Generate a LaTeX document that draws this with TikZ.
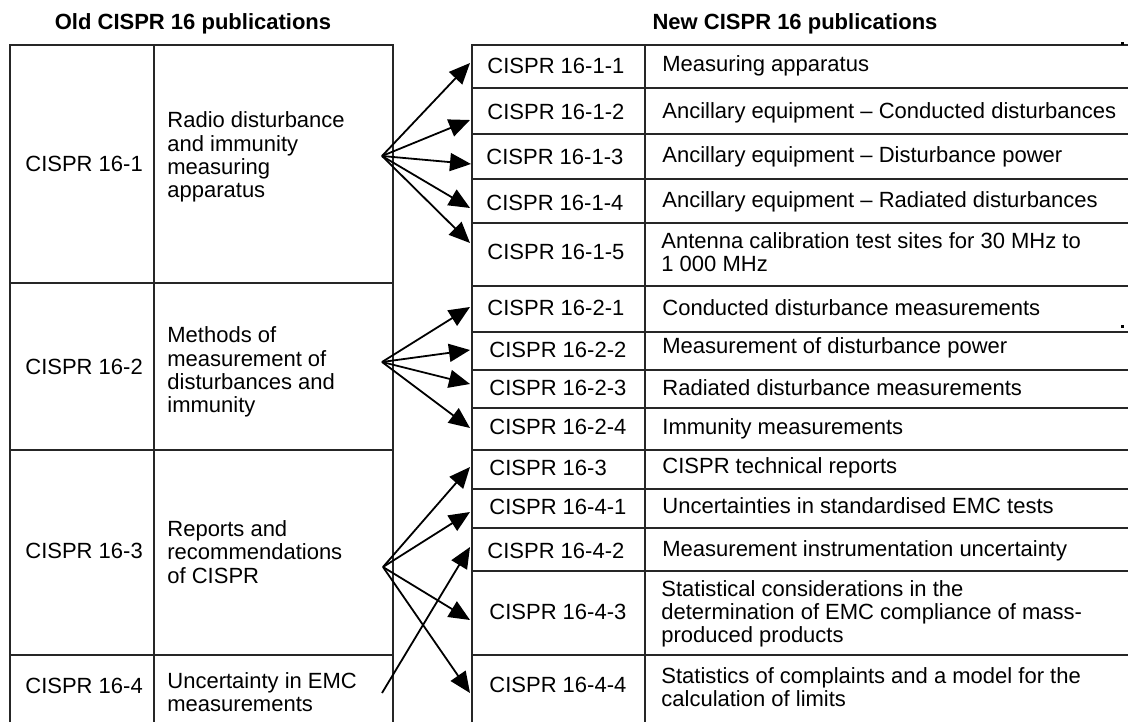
\documentclass[tikz,border=0pt]{standalone}
\usepackage{fontspec}
\setmainfont{Liberation Sans}
\usetikzlibrary{arrows.meta}
\begin{document}
\begin{tikzpicture}[x=0.5pt,y=-0.5pt,
  txt/.style={anchor=west, align=left, inner sep=0pt, font=\fontsize{11}{11.6}\selectfont},
  ttl/.style={inner sep=0pt, font=\fontsize{11}{13}\selectfont\bfseries},
  tabline/.style={line width=0.6pt, black!85},
  arr/.style={line width=0.9pt, -{Triangle[length=10.5pt,width=9pt]}}]
\useasboundingbox (0,0) rectangle (1128,722);

% titles
\node[ttl] (toldt) at (193,24) {Old CISPR 16 publications};
\node[ttl] (tnewt) at (795,24) {New CISPR 16 publications};

% left table lines
\draw[tabline] (10,722) -- (10,45) -- (393,45) -- (393,722);
\draw[tabline] (154,45) -- (154,722);
\foreach \yy in {283,450,655} \draw[tabline] (10,\yy) -- (393,\yy);

% right table lines
\draw[tabline] (472,722) -- (472,45) -- (1128,45);
\draw[tabline] (645,45) -- (645,722);
\foreach \yy in {88,134,179,223,286,332,370,408,450,489,528,571,655}
  \draw[tabline] (472,\yy) -- (1128,\yy);
\fill (1121,325) rectangle (1124,328);
\fill (1121,42) rectangle (1124,45);

% left table texts
\node[txt] (o1) at (25,164) {CISPR 16-1};
\node[txt] (o1d) at (167,157) {Radio disturbance\\and immunity\\measuring\\apparatus};
\node[txt] (o2) at (25,367) {CISPR 16-2};
\node[txt] (o2d) at (167,372) {Methods of\\measurement of\\disturbances and\\immunity};
\node[txt] (o3) at (25,551) {CISPR 16-3};
\node[txt] (o3d) at (167,552) {Reports and\\recommendations\\of CISPR};
\node[txt] (o4) at (25,686) {CISPR 16-4};
\node[txt] (o4d) at (167,692) {Uncertainty in EMC\\measurements};

% right table texts
\node[txt] (n111) at (487,66) {CISPR 16-1-1};
\node[txt] (n111d) at (662,66) {Measuring apparatus};
\node[txt] (n112) at (487,112) {CISPR 16-1-2};
\node[txt] (n112d) at (662,113) {Ancillary equipment -- Conducted disturbances};
\node[txt] (n113) at (486,157) {CISPR 16-1-3};
\node[txt] (n113d) at (662,157) {Ancillary equipment -- Disturbance power};
\node[txt] (n114) at (486,203) {CISPR 16-1-4};
\node[txt] (n114d) at (662,202) {Ancillary equipment -- Radiated disturbances};
\node[txt] (n115) at (487,252) {CISPR 16-1-5};
\node[txt] (n115d) at (661,252) {Antenna calibration test sites for 30 MHz to\\1 000 MHz};
\node[txt] (n221) at (487,308) {CISPR 16-2-1};
\node[txt] (n221d) at (662,308) {Conducted disturbance measurements};
\node[txt] (n222) at (489,350) {CISPR 16-2-2};
\node[txt] (n222d) at (662,348) {Measurement of disturbance power};
\node[txt] (n223) at (489,388) {CISPR 16-2-3};
\node[txt] (n223d) at (662,388) {Radiated disturbance measurements};
\node[txt] (n224) at (489,427) {CISPR 16-2-4};
\node[txt] (n224d) at (662,429) {Immunity measurements};
\node[txt] (n3) at (489,468) {CISPR 16-3};
\node[txt] (n3d) at (662,468) {CISPR technical reports};
\node[txt] (n441) at (489,507) {CISPR 16-4-1};
\node[txt] (n441d) at (662,506) {Uncertainties in standardised EMC tests};
\node[txt] (n442) at (487,551) {CISPR 16-4-2};
\node[txt] (n442d) at (662,551) {Measurement instrumentation uncertainty};
\node[txt] (n443) at (489,612) {CISPR 16-4-3};
\node[txt] (n443d) at (661,614) {Statistical considerations in the\\determination of EMC compliance of mass-\\produced products};
\node[txt] (n444) at (489,685) {CISPR 16-4-4};
\node[txt] (n444d) at (661,687) {Statistics of complaints and a model for the\\calculation of limits};

% fan origins and arrow tips
\coordinate (f1) at (382,156);
\coordinate (f2) at (382,362);
\coordinate (f3) at (383,567);
\coordinate (f4) at (382,693);
\coordinate (t111) at (470,63);
\coordinate (t112) at (470,120);
\coordinate (t113) at (471,164);
\coordinate (t114) at (470,208);
\coordinate (t115) at (470,243);
\coordinate (t221) at (470,307);
\coordinate (t222) at (470,350);
\coordinate (t223) at (470,384);
\coordinate (t224) at (470,428);
\coordinate (t3) at (470,467);
\coordinate (t441) at (470,512);
\coordinate (t442) at (470,547);
\coordinate (t443) at (470,620);
\coordinate (t444) at (470,693);

\foreach \t in {t111,t112,t113,t114,t115} \draw[arr] (f1) -- (\t);
\foreach \t in {t221,t222,t223,t224} \draw[arr] (f2) -- (\t);
\foreach \t in {t3,t441,t443,t444} \draw[arr] (f3) -- (\t);
\draw[arr] (f4) -- (t442);
\end{tikzpicture}
\end{document}
